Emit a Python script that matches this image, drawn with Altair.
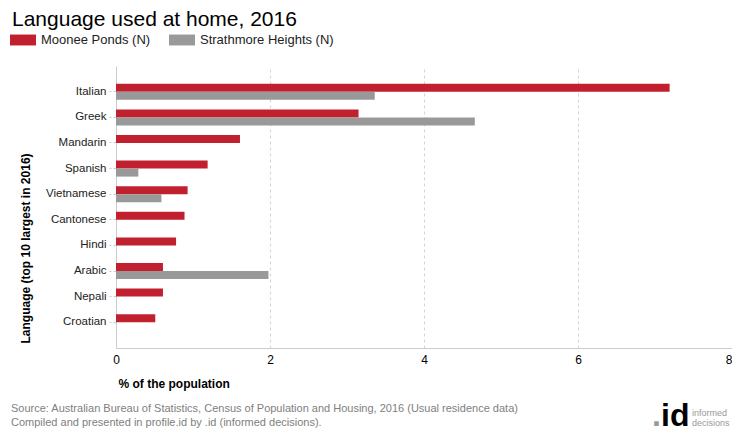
import altair as alt
import pandas as pd

# ---- data ----
languages = ["Italian", "Greek", "Mandarin", "Spanish", "Vietnamese",
             "Cantonese", "Hindi", "Arabic", "Nepali", "Croatian"]
moonee_ponds = [7.19, 3.15, 1.61, 1.19, 0.93, 0.89, 0.78, 0.61, 0.61, 0.51]
strathmore = [3.36, 4.66, 0.0, 0.29, 0.59, 0.0, 0.0, 1.98, 0.0, 0.0]
series = ["Moonee Ponds (N)", "Strathmore Heights (N)"]
colors = ["#c1202f", "#999999"]
x_ticks = [0, 2, 4, 6, 8]

title_text = "Language used at home, 2016"
source_lines = [
    "Source: Australian Bureau of Statistics, Census of Population and Housing, 2016 (Usual residence data)",
    "Compiled and presented in profile.id by .id (informed decisions).",
]

rows = []
for i, lang in enumerate(languages):
    rows.append({"language": lang, "series": series[0], "value": moonee_ponds[i]})
    rows.append({"language": lang, "series": series[1], "value": strathmore[i]})
df = pd.DataFrame(rows)

# ---- layout ----
PLOT_W, PLOT_H = 616, 282
PAD_L, PAD_T = 108, 58
OX, OY = 8 + PAD_L, 8 + PAD_T  # page position of plot origin
FONT = "Liberation Sans"

bars = alt.Chart(df).mark_bar().encode(
    x=alt.X("value:Q",
            scale=alt.Scale(domain=[0, 8], nice=False),
            axis=alt.Axis(values=x_ticks, title="% of the population",
                          grid=True, gridDash=[3, 3], gridColor="#d4d4d4",
                          domainColor="#cccccc", ticks=False,
                          labelFontSize=12, labelColor="#000000", labelPadding=6,
                          labelAlign=alt.expr("datum.value >= 8 ? 'right' : 'center'"),
                          labelFont=FONT, titleFont=FONT,
                          titleFontSize=12, titleFontWeight="bold", titleColor="#000000",
                          titleAlign="left", titleBaseline="middle",
                          titleX=2, titleY=35)),
    y=alt.Y("language:N", sort=languages,
            scale=alt.Scale(paddingInner=0.375, paddingOuter=0.695),
            axis=alt.Axis(title="Language (top 10 largest in 2016)",
                          grid=False, domainColor="#cccccc",
                          ticks=True, tickColor="#cccccc", tickDash=[3, 2], tickSize=7,
                          labelFontSize=11.5, labelColor="#222222", labelPadding=3,
                          labelFont=FONT, titleFont=FONT,
                          titleFontSize=12, titleFontWeight="bold", titleColor="#000000",
                          titleAngle=270, titleAlign="left", titleBaseline="middle",
                          titleX=25 - OX, titleY=343 - OY)),
    yOffset=alt.YOffset("series:N", sort=series,
                        scale=alt.Scale(domain=series, paddingInner=0, paddingOuter=0)),
    color=alt.Color("series:N",
                    scale=alt.Scale(domain=series, range=colors),
                    legend=alt.Legend(title=None, orient="none", direction="horizontal",
                                      legendX=10 - OX, legendY=27 - OY,
                                      labelFontSize=13, labelColor="#222222", labelFont=FONT,
                                      symbolType="M-1,-0.42H1V0.42H-1Z", symbolSize=676,
                                      symbolStrokeWidth=0, symbolOpacity=1,
                                      labelOffset=5, columnPadding=18, padding=0)),
)

one = pd.DataFrame({"a": [0]})


def text_layer(txt, px, py, size, color, weight="normal", align="left"):
    return alt.Chart(one).mark_text(
        text=txt, align=align, baseline="alphabetic", fontSize=size,
        color=color, fontWeight=weight, font=FONT,
    ).encode(x=alt.value(px - OX), y=alt.value(py - OY))


layers = [
    bars,
    text_layer(title_text, 12, 26, 21, "#000000"),
    text_layer(source_lines[0], 11, 412, 11, "#808080"),
    text_layer(source_lines[1], 11, 426, 11, "#808080"),
    text_layer(".", 652, 426, 32, "#999999", "bold"),
    text_layer("id", 661, 426, 32, "#000000", "bold"),
    text_layer("informed", 692, 416, 9, "#999999"),
    text_layer("decisions", 692, 426, 9, "#999999"),
]

chart = alt.layer(*layers).properties(
    width=PLOT_W, height=PLOT_H,
    autosize=alt.AutoSizeParams(type="none"),
    padding={"left": PAD_L, "top": PAD_T, "right": 0, "bottom": 84},
    background="white",
).configure_view(strokeWidth=0)

chart.save("out.html", embed_options={"renderer": "svg", "actions": False})
